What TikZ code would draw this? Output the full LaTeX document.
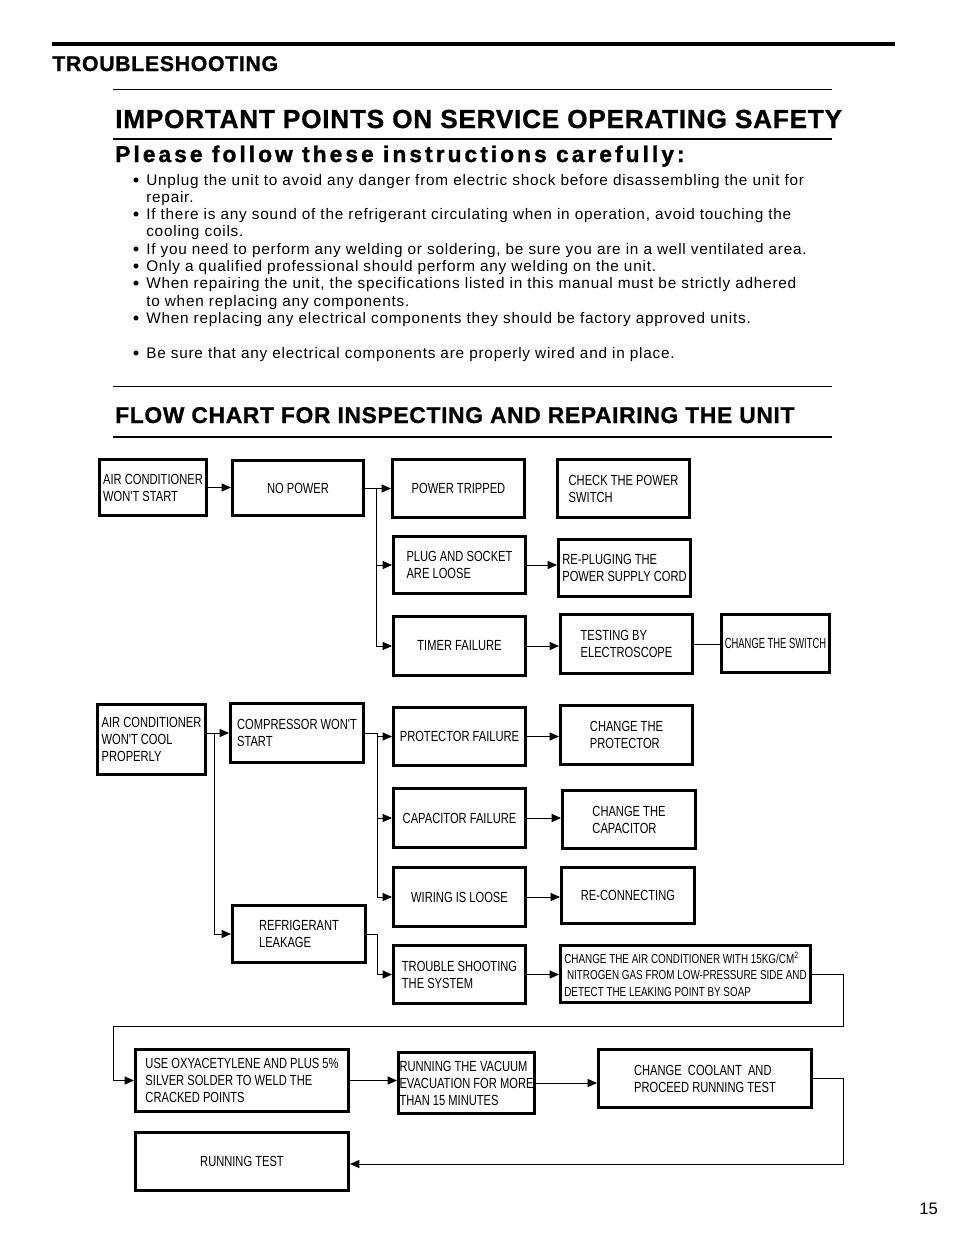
\documentclass[tikz,border=0pt]{standalone}
\usepackage{fontspec}
\setmainfont{Liberation Sans}
\newfontfamily\boxfont[FakeStretch=0.76]{Liberation Sans}
\newfontfamily\narrowfont[FakeStretch=0.64]{Liberation Sans}
\newfontfamily\headfont[LetterSpace=3, FakeBold=1]{Liberation Sans}
\newfontfamily\pleasefont[LetterSpace=13.6, FakeBold=1.5]{Liberation Sans}
\newfontfamily\pointfont[LetterSpace=5.1]{Liberation Sans}
\usetikzlibrary{arrows.meta}

\begin{document}
\begin{tikzpicture}[x=0.75pt, y=-0.75pt,
	flowbox/.style 2 args={draw, line width=2.25pt, minimum width=#1*0.75pt, minimum height=#2*0.75pt, inner sep=0pt, align=left, font=\boxfont\fontsize{11}{12.75}\selectfont},
	link/.style={line width=0.75pt},
	arr/.style={link, -{Triangle[length=7pt, width=6pt]}},
	bullettext/.style={anchor=base west, inner sep=0pt, font=\pointfont\fontsize{11.5}{13}\selectfont},
	dot/.style={circle, fill, inner sep=0pt, minimum size=3.8pt},
	heading/.style={anchor=base west, inner sep=0pt}
	]
		\useasboundingbox (0,0) rectangle (954,1235);

		% page head
		\draw[line width=3pt] (52,44) -- (895,44);
		\node[heading, font=\headfont\bfseries\fontsize{16}{18}\selectfont] (head) at (52,71) {TROUBLESHOOTING};
		\draw[line width=0.75pt] (113,89) -- (832,89);
		\node[heading, font=\headfont\bfseries\fontsize{19.6}{22}\selectfont] (safety) at (115,128) {IMPORTANT POINTS ON SERVICE OPERATING SAFETY};
		\draw[line width=1.5pt] (113,139) -- (832,139);
		\node[heading, font=\pleasefont\bfseries\fontsize{17}{19}\selectfont] (please) at (115,162) {Please follow these instructions carefully:};

		% safety points
		\node[dot] (d1) at (136,180) {};
		\node[bullettext] (b1) at (146,185) {Unplug the unit to avoid any danger from electric shock before disassembling the unit for};
		\node[bullettext] (b1a) at (146,202) {repair.};
		\node[dot] (d2) at (136,214) {};
		\node[bullettext] (b2) at (146,219) {If there is any sound of the refrigerant circulating when in operation, avoid touching the};
		\node[bullettext] (b2a) at (146,236) {cooling coils.};
		\node[dot] (d3) at (136,249) {};
		\node[bullettext] (b3) at (146,254) {If you need to perform any welding or soldering, be sure you are in a well ventilated area.};
		\node[dot] (d4) at (136,266) {};
		\node[bullettext] (b4) at (146,271) {Only a qualified professional should perform any welding on the unit.};
		\node[dot] (d5) at (136,283) {};
		\node[bullettext] (b5) at (146,288) {When repairing the unit, the specifications listed in this manual must be strictly adhered};
		\node[bullettext] (b5a) at (146,306) {to when replacing any components.};
		\node[dot] (d6) at (136,318) {};
		\node[bullettext] (b6) at (146,323) {When replacing any electrical components they should be factory approved units.};
		\node[dot] (d7) at (136,353) {};
		\node[bullettext] (b7) at (146,358) {Be sure that any electrical components are properly wired and in place.};

		\draw[line width=0.75pt] (113,386) -- (832,386);
		\node[heading, font=\headfont\bfseries\fontsize{17.1}{19}\selectfont] (flow) at (115,423) {FLOW CHART FOR INSPECTING AND REPAIRING THE UNIT};
		\draw[line width=1.5pt] (113,437) -- (832,437);

		% no power
		\node[flowbox={107}{56}] (acws) at (153,487.5) {AIR CONDITIONER\\WON'T START};
		\node[flowbox={131}{55}] (nopower) at (298,488) {NO POWER};
		\node[flowbox={132}{58}] (tripped) at (458.5,488.5) {POWER TRIPPED};
		\node[flowbox={132}{58}] (checksw) at (623.5,488.5) {CHECK THE POWER\\SWITCH};
		\node[flowbox={132}{57}] (plug) at (459.5,565) {PLUG AND SOCKET\\ARE LOOSE};
		\node[flowbox={132}{57}] (replug) at (624.5,568) {RE-PLUGING THE\\POWER SUPPLY CORD};
		\node[flowbox={132}{59}] (timer) at (459.5,646) {TIMER FAILURE};
		\node[flowbox={132}{59}] (testing) at (626.5,644) {TESTING BY\\ELECTROSCOPE};
		\node[flowbox={108}{58}, font=\narrowfont\fontsize{11}{12.75}\selectfont] (changesw) at (775.5,643.5) {CHANGE THE SWITCH};

		\coordinate (tp) at (376,0);
		\draw[arr] (acws.east) -- (acws.east -| nopower.west);
		\draw[link] (nopower.east) -- (nopower.east -| tp);
		\draw[arr] (nopower.east -| tp) |- (tripped.west);
		\draw[arr] (nopower.east -| tp) |- (plug.west);
		\draw[arr] (nopower.east -| tp) |- (timer.west);
		\draw[arr] (plug.east) -- (plug.east -| replug.west);
		\draw[arr] (timer.east) -- (timer.east -| testing.west);
		\draw[link] (testing.east) -- (testing.east -| changesw.west);

		% won't cool
		\node[flowbox={108}{70}] (acwcp) at (151.5,739.5) {AIR CONDITIONER\\WON'T COOL\\PROPERLY};
		\node[flowbox={133}{59}] (comp) at (297,733) {COMPRESSOR WON'T\\START};
		\node[flowbox={132}{58}] (protector) at (459.5,736.5) {PROTECTOR FAILURE};
		\node[flowbox={132}{59}] (capacitor) at (459.5,818) {CAPACITOR FAILURE};
		\node[flowbox={132}{59}] (wiring) at (459.5,897) {WIRING IS LOOSE};
		\node[flowbox={133}{57}] (refrig) at (299,934) {REFRIGERANT\\LEAKAGE};
		\node[flowbox={132}{58}] (trouble) at (459.5,974.5) {TROUBLE SHOOTING\\THE SYSTEM};
		\node[flowbox={132}{59}] (chprot) at (626.5,735) {CHANGE THE\\PROTECTOR};
		\node[flowbox={133}{58}] (chcap) at (629,819.5) {CHANGE THE\\CAPACITOR};
		\node[flowbox={133}{56}] (reconn) at (628,895.5) {RE-CONNECTING};
		\node[flowbox={250}{57}, font=\boxfont\fontsize{9.75}{12.4}\selectfont] (changeac) at (685.5,974) {CHANGE THE AIR CONDITIONER WITH 15KG/CM\textsuperscript{2}\\\ NITROGEN GAS FROM LOW-PRESSURE SIDE AND\\DETECT THE LEAKING POINT BY SOAP};

		\coordinate (ta) at (214,733);
		\coordinate (tb) at (377,0);
		\draw[link] (acwcp.east |- comp.west) -- (ta);
		\draw[arr] (ta) -- (comp.west);
		\draw[arr] (ta) |- (refrig.west);
		\draw[link] (comp.east) -- (comp.east -| tb);
		\draw[arr] (comp.east -| tb) |- (protector.west);
		\draw[arr] (comp.east -| tb) |- (capacitor.west);
		\draw[arr] (comp.east -| tb) |- (wiring.west);
		\draw[arr] (refrig.east) -- (refrig.east -| tb) |- (trouble.west);
		\draw[arr] (protector.east) -- (protector.east -| chprot.west);
		\draw[arr] (capacitor.east) -- (capacitor.east -| chcap.west);
		\draw[arr] (wiring.east) -- (wiring.east -| reconn.west);
		\draw[arr] (trouble.east) -- (trouble.east -| changeac.west);

		% repair and test
		\node[flowbox={213}{62}] (oxy) at (242,1080.5) {USE OXYACETYLENE AND PLUS 5\%\\SILVER SOLDER TO WELD THE\\CRACKED POINTS};
		\node[flowbox={136}{61}] (vacuum) at (466.5,1083) {RUNNING THE VACUUM\\EVACUATION FOR MORE\\THAN 15 MINUTES};
		\node[flowbox={213}{58}] (coolant) at (705,1078.5) {CHANGE\ \ COOLANT\ \ AND\\PROCEED RUNNING TEST};
		\node[flowbox={213}{58}] (runtest) at (242,1161.5) {RUNNING TEST};

		\coordinate (rt) at (843,1026);
		\coordinate (lt) at (113,1026);
		\coordinate (rb) at (843,1164);
		\draw[arr] (changeac.east) -| (rt) -- (lt) |- (oxy.west);
		\draw[arr] (oxy.east) -- (oxy.east -| vacuum.west);
		\draw[arr] (vacuum.east) -- (vacuum.east -| coolant.west);
		\draw[arr] (coolant.east) -| (rb) -- (rb -| runtest.east);

		\node[anchor=base west, inner sep=0pt, font=\fontsize{12.5}{15}\selectfont] (page) at (919,1214) {15};
	\end{tikzpicture}
\end{document}
